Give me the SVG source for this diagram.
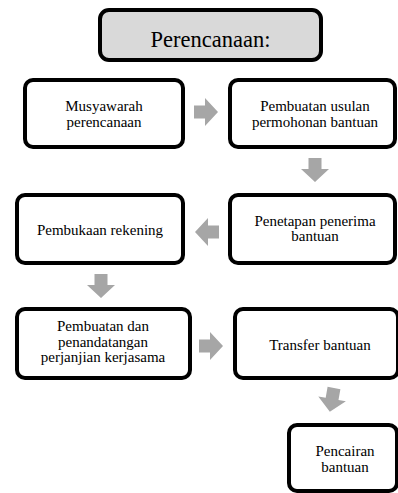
<svg xmlns="http://www.w3.org/2000/svg" width="398" height="493" viewBox="0 0 398 493">
<style>
.box{fill:#fff;stroke:#000;stroke-width:4}
.title{fill:#d9d9d9;stroke:#000;stroke-width:4}
text{font-family:'Liberation Serif','DejaVu Serif','Times New Roman',serif;fill:#000;text-anchor:middle}
.t{font-size:15px}
.tt{font-size:22.5px}
.arr{fill:#a6a6a6}
</style>
<defs>
<path id="arrR" d="M0,-6.5 H11 V-14 L24,0 L11,14 V6.5 H0 Z"/>
</defs>
<rect width="398" height="493" fill="#fff"/>
<g id="title">
<rect class="title" x="100" y="10" width="221" height="50" rx="9"/>
<text class="tt" x="210.5" y="47">Perencanaan:</text>
</g>
<g id="n1">
<rect class="box" x="25" y="80" width="158" height="67" rx="8"/>
<text class="t" x="104" y="111">Musyawarah</text>
<text class="t" x="104" y="126.5">perencanaan</text>
</g>
<g id="n2">
<rect class="box" x="230" y="80" width="165" height="67" rx="8"/>
<text class="t" x="315" y="111">Pembuatan usulan</text>
<text class="t" x="315" y="126.5">permohonan bantuan</text>
</g>
<g id="n3">
<rect class="box" x="230" y="195" width="165" height="68" rx="8"/>
<text class="t" x="315" y="225.5">Penetapan penerima</text>
<text class="t" x="315" y="241">bantuan</text>
</g>
<g id="n4">
<rect class="box" x="17" y="195" width="166" height="68" rx="8"/>
<text class="t" x="100" y="235">Pembukaan rekening</text>
</g>
<g id="n5">
<rect class="box" x="17" y="309" width="173" height="69" rx="8"/>
<text class="t" x="103" y="331">Pembuatan dan</text>
<text class="t" x="103" y="346.5">penandatangan</text>
<text class="t" x="103" y="362">perjanjian kerjasama</text>
</g>
<g id="n6">
<rect class="box" x="235" y="309" width="163" height="69" rx="8"/>
<text class="t" x="320" y="350">Transfer bantuan</text>
</g>
<g id="n7">
<rect class="box" x="289" y="425" width="108" height="66" rx="8"/>
<text class="t" x="345" y="456">Pencairan</text>
<text class="t" x="345" y="471.5">bantuan</text>
</g>
<g id="connectors" class="arr">
<use href="#arrR" transform="translate(194,112)"/>
<use href="#arrR" transform="translate(315,158) rotate(90)"/>
<use href="#arrR" transform="translate(219,232) rotate(180)"/>
<use href="#arrR" transform="translate(101,274) rotate(90)"/>
<use href="#arrR" transform="translate(199,346)"/>
<use href="#arrR" transform="translate(334,388) rotate(100)"/>
</g>
</svg>
